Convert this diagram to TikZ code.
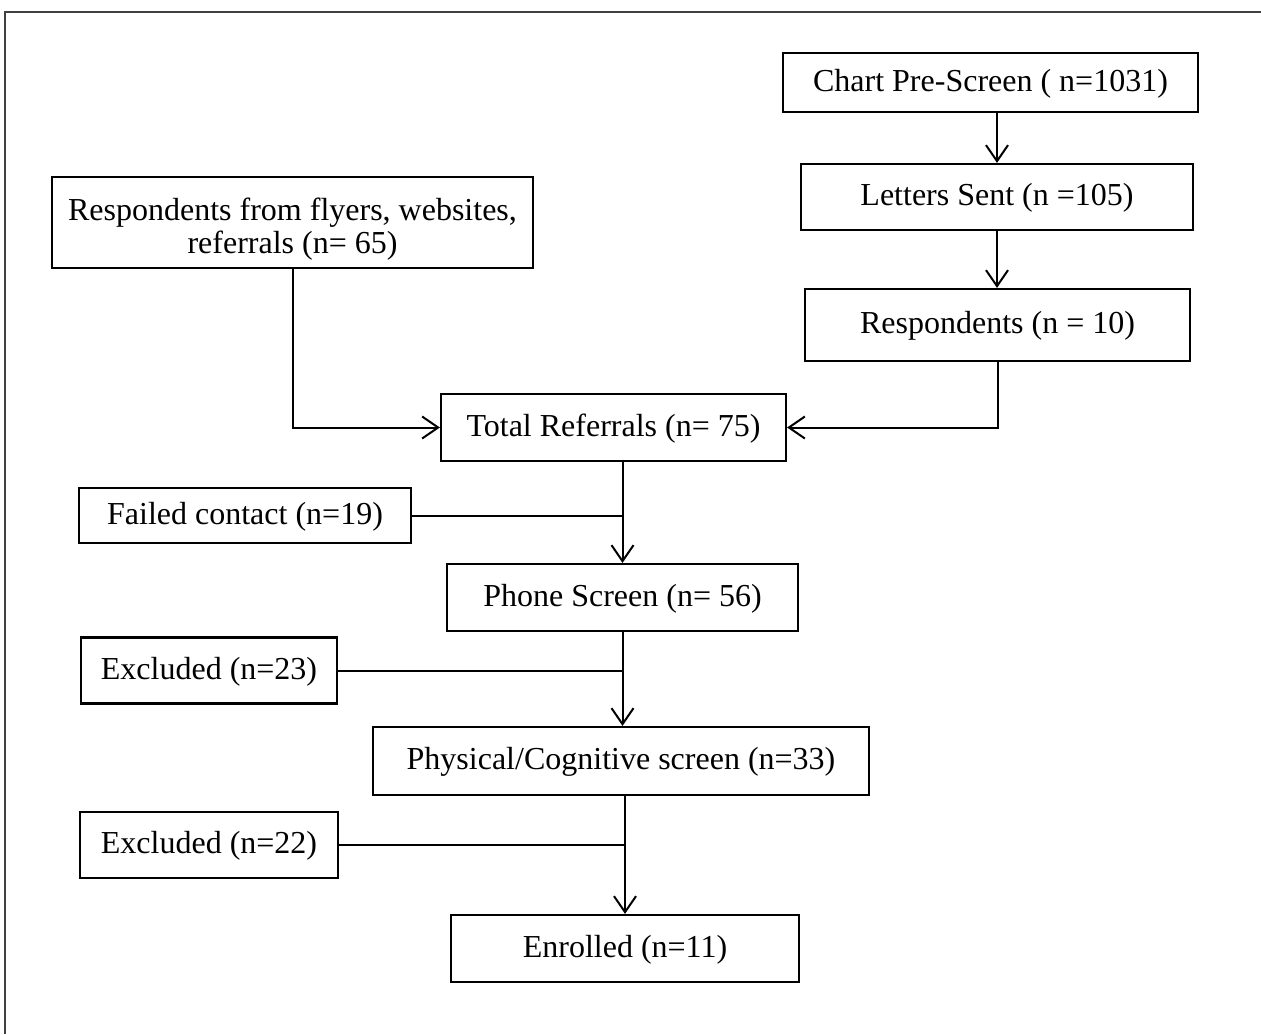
\documentclass[tikz,border=0pt]{standalone}
\usepackage{fontspec}
\setmainfont{Liberation Serif}
\usetikzlibrary{arrows.meta}
\begin{document}
\begin{tikzpicture}[x=0.5pt,y=-0.5pt,
  boxbase/.style={draw=black, line width=1.1pt, rectangle, align=center, inner sep=0pt,
    font=\fontsize{16}{16.5}\selectfont},
  box/.style={boxbase, text height=11pt, text depth=2.5pt},
  conn/.style={draw=black, line width=1pt},
  arr/.style={conn, -{Straight Barb[length=8pt,width=11pt,line width=1pt]}},
  frame/.style={draw=black!75, line width=1.2pt}]
\useasboundingbox (0,0) rectangle (1261,1034);
\draw[frame] (5,1034) -- (5,12) -- (1261,12);

\node[box, minimum width=207.5pt, minimum height=29.5pt] (chart) at (990.5,82.5) {Chart Pre-Screen ( n=1031)};
\node[box, minimum width=196pt, minimum height=33pt] (letters) at (997,197) {Letters Sent (n =105)};
\node[box, minimum width=192.5pt, minimum height=36pt] (resp) at (997.5,325) {Respondents (n = 10)};
\node[boxbase, minimum width=240.5pt, minimum height=45.5pt] (flyers) at (292.5,222.5) {\rule{0pt}{18pt}Respondents from flyers, websites,\\referrals (n= 65)};
\node[box, minimum width=172.5pt, minimum height=33.5pt] (total) at (613.5,427.5) {Total Referrals (n= 75)};
\node[box, minimum width=166pt, minimum height=27.5pt] (failed) at (245,515.5) {Failed contact (n=19)};
\node[box, minimum width=175.5pt, minimum height=33.5pt] (phone) at (622.5,597.5) {Phone Screen (n= 56)};
\node[box, minimum width=128pt, minimum height=33pt] (exa) at (209,670.5) {Excluded (n=23)};
\node[box, minimum width=248pt, minimum height=34pt] (phys) at (621,761) {Physical/Cognitive screen (n=33)};
\node[box, minimum width=129pt, minimum height=33pt] (exb) at (209,845) {Excluded (n=22)};
\node[box, minimum width=174pt, minimum height=33.5pt] (enr) at (625,948.5) {Enrolled (n=11)};

\draw[arr] (chart.south -| letters.north) -- (letters.north);
\draw[arr] (letters.south) -- (letters.south |- resp.north);
\draw[arr] (flyers.south) |- (total.west);
\draw[arr] (resp.south) |- (total.east);
\draw[arr] (total.south -| phone.north) -- (phone.north);
\draw[conn] (failed.east) -- (failed.east -| phone.north);
\draw[arr] (phone.south) -- (phone.south |- phys.north);
\draw[conn] (exa.east) -- (exa.east -| phone.south);
\draw[arr] (phys.south -| enr.north) -- (enr.north);
\draw[conn] (exb.east) -- (exb.east -| enr.north);
\end{tikzpicture}
\end{document}
